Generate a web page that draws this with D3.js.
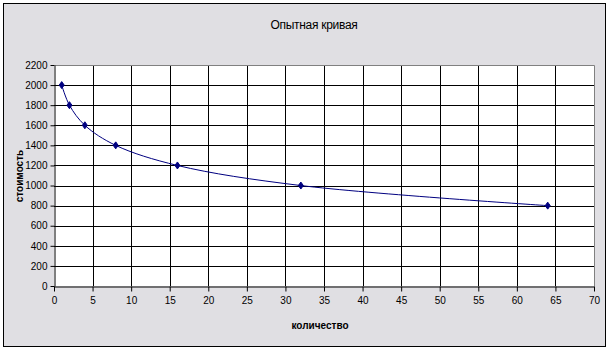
<!DOCTYPE html>
<meta charset="utf-8">
<script src="https://d3js.org/d3.v7.min.js"></script>
<style>
  body { margin: 0; }
  text { font-family: "Liberation Sans", Arial, sans-serif; }
</style>
<div id="chart"></div>
<script>

// data
var quantity = [1, 2, 4, 8, 16, 32, 64];
var cost = [2000, 1800, 1600, 1400, 1200, 1000, 800];
var xTicks = [0, 5, 10, 15, 20, 25, 30, 35, 40, 45, 50, 55, 60, 65, 70];
var yTicks = [0, 200, 400, 600, 800, 1000, 1200, 1400, 1600, 1800, 2000, 2200];

var W = 610, H = 351;
var margin = {top: 65, right: 16, bottom: 65, left: 54},
    width = W - margin.left - margin.right,
    height = H - margin.top - margin.bottom;

var root = d3.select("#chart").append("svg")
    .attr("width", W)
    .attr("height", H);

// chart area
root.append("rect")
    .attr("x", 3.5).attr("y", 3.5)
    .attr("width", 602).attr("height", 343)
    .attr("fill", "#e0dfe3")
    .attr("stroke", "#000")
    .attr("stroke-width", 1);

var svg = root.append("g")
    .attr("transform", "translate(" + margin.left + "," + margin.top + ")");

var x = d3.scaleLinear().domain([0, 70]).range([0, width]);
var y = d3.scaleLinear().domain([0, 2200]).range([height, 0]);

// plot area
svg.append("rect")
    .attr("width", width).attr("height", height)
    .attr("fill", "#fff");

// gridlines
svg.append("g")
  .selectAll("line")
  .data(xTicks.slice(1, -1))
  .enter().append("line")
    .attr("x1", function(d) { return Math.round(x(d)) + 0.5; })
    .attr("x2", function(d) { return Math.round(x(d)) + 0.5; })
    .attr("y1", 0).attr("y2", height)
    .attr("stroke", "#000");

svg.append("g")
  .selectAll("line")
  .data(yTicks.slice(1, -1))
  .enter().append("line")
    .attr("y1", function(d) { return Math.round(y(d)) + 0.5; })
    .attr("y2", function(d) { return Math.round(y(d)) + 0.5; })
    .attr("x1", 0).attr("x2", width)
    .attr("stroke", "#000");

// grey border top and right
svg.append("path")
    .attr("d", "M0.5,0.5H" + (width + 0.5) + "V" + height)
    .attr("fill", "none")
    .attr("stroke", "#808080");

// axes
var xAxis = svg.append("g")
    .attr("transform", "translate(0," + (height + 0.5) + ")")
    .call(d3.axisBottom(x).tickValues(xTicks).tickFormat(d3.format("d"))
      .tickSize(5).tickSizeOuter(0).tickPadding(5));

var yAxis = svg.append("g")
    .attr("transform", "translate(0.5,0)")
    .call(d3.axisLeft(y).tickValues(yTicks).tickFormat(d3.format("d"))
      .tickSize(4).tickSizeOuter(0).tickPadding(3));

[xAxis, yAxis].forEach(function(a) {
  a.selectAll("path, line").attr("stroke", "#000");
  a.selectAll("text").attr("fill", "#000").style("font-size", "10px")
    .style("font-family", "'Liberation Sans', Arial, sans-serif");
});

// smoothed line
var pts = quantity.map(function(q, i) { return [q, cost[i]]; });

svg.append("path")
    .datum(pts)
    .attr("fill", "none")
    .attr("stroke", "#000080")
    .attr("stroke-width", 1)
    .attr("d", d3.line()
      .x(function(d) { return x(d[0]); })
      .y(function(d) { return y(d[1]); })
      .curve(d3.curveCatmullRom.alpha(0.5)));

// markers
svg.append("g")
  .selectAll("path")
  .data(pts)
  .enter().append("path")
    .attr("transform", function(d) { return "translate(" + x(d[0]) + "," + y(d[1]) + ")"; })
    .attr("d", "M0,-3.5L2.5,0L0,3.5L-2.5,0Z")
    .attr("fill", "#000080")
    .attr("stroke", "#000080");

// titles
root.append("text")
    .attr("x", 314).attr("y", 29)
    .attr("text-anchor", "middle")
    .style("font-size", "12px")
    .style("letter-spacing", "-0.3px")
    .text("Опытная кривая");

root.append("text")
    .attr("x", 320).attr("y", 329)
    .attr("text-anchor", "middle")
    .style("font-size", "10px")
    .style("font-weight", "bold")
    .text("количество");

root.append("text")
    .attr("transform", "translate(23,176) rotate(-90)")
    .attr("text-anchor", "middle")
    .style("font-size", "10px")
    .style("font-weight", "bold")
    .text("стоимость");

</script>
